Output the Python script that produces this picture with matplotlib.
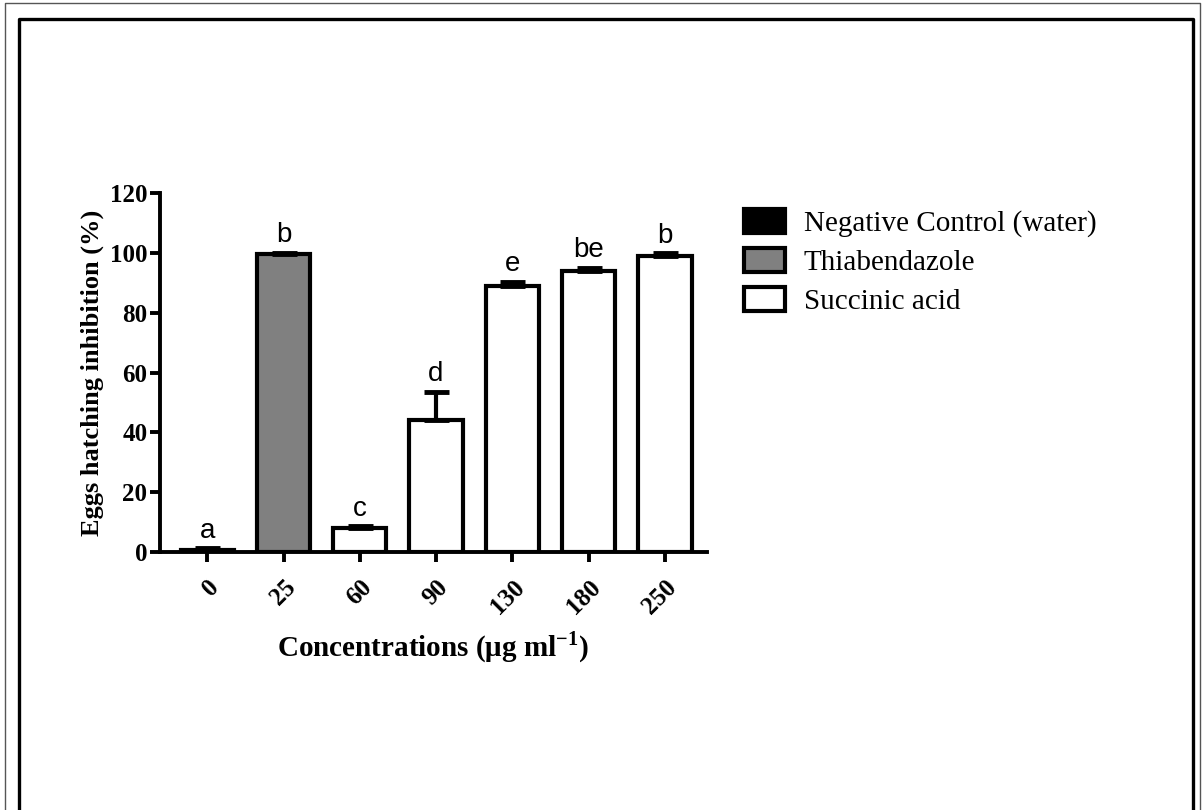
import matplotlib
matplotlib.use('Agg')
import matplotlib.pyplot as plt
from matplotlib.patches import Patch
from matplotlib.lines import Line2D

# data
concentrations = ['0', '25', '60', '90', '130', '180', '250']
inhibition = [0.8, 99.5, 8.0, 44.0, 88.8, 94.0, 99.0]
errors = [0.5, 0.5, 0.6, 9.5, 1.5, 1.0, 0.8]
letters = ['a', 'b', 'c', 'd', 'e', 'be', 'b']
groups = ['Negative Control (water)', 'Thiabendazole',
          'Succinic acid', 'Succinic acid', 'Succinic acid',
          'Succinic acid', 'Succinic acid']
group_colors = {'Negative Control (water)': 'black',
                'Thiabendazole': '#808080',
                'Succinic acid': 'white'}

serif = ['Liberation Serif', 'DejaVu Serif']
sans = ['Liberation Sans', 'DejaVu Sans']

plt.rcParams['mathtext.fontset'] = 'custom'
plt.rcParams['mathtext.rm'] = 'Liberation Serif:bold'
plt.rcParams['mathtext.bf'] = 'Liberation Serif:bold'

fig = plt.figure(figsize=(12.02, 8.10), dpi=100)
ax = fig.add_axes([0.1331, 0.3185, 0.4549, 0.4432])

x = list(range(len(concentrations)))
colors = [group_colors[g] for g in groups]
ax.bar(x, inhibition, width=0.7, color=colors, edgecolor='black',
       linewidth=3.0, zorder=2)
ax.errorbar(x, inhibition, yerr=[[0] * len(errors), errors], fmt='none',
            ecolor='black', elinewidth=3.0, capsize=9, capthick=3.5, zorder=3)

for xi, v, e, lab in zip(x, inhibition, errors, letters):
    ax.text(xi, v + e + 1.5, lab, ha='center', va='bottom', fontsize=20,
            family=sans)

ax.set_xlim(-0.62, 6.55)
ax.set_ylim(0, 120)
ax.set_yticks([0, 20, 40, 60, 80, 100, 120])
ax.set_xticks(x)
ax.set_xticklabels(concentrations, rotation=45, ha='right', va='top',
                   rotation_mode='anchor', fontsize=18, fontweight='bold',
                   family=serif)
for t in ax.get_yticklabels():
    t.set_fontsize(18)
    t.set_fontweight('bold')
    t.set_family(serif)

for s in ['top', 'right']:
    ax.spines[s].set_visible(False)
for s in ['left', 'bottom']:
    ax.spines[s].set_linewidth(2.8)
ax.tick_params(axis='both', width=2.8, length=7, direction='out', pad=2)
ax.tick_params(axis='x', pad=10)

ax.set_ylabel('Eggs hatching inhibition (%)', fontsize=19, fontweight='bold',
              family=serif, labelpad=4)
ax.set_xlabel('Concentrations (μg ml$^{-1}$)', fontsize=21, fontweight='bold',
              family=serif, labelpad=8)

labels = ['Negative Control (water)', 'Thiabendazole', 'Succinic acid']
handles = [Patch(facecolor=group_colors[g], edgecolor='black', linewidth=3)
           for g in labels]
leg = fig.legend(handles, labels,
                 loc='upper left', bbox_to_anchor=(0.597, 0.774), frameon=False,
                 prop={'family': serif, 'size': 21}, handlelength=1.4,
                 handleheight=0.85, labelspacing=0.38, handletextpad=0.65)

# page frame: thin outer line and thick inner line, open at the bottom
for xl, xr, yt, lw, c in [(0.004, 0.998, 0.996, 1.0, '#555555'),
                           (0.0155, 0.9925, 0.977, 2.4, 'black')]:
    fig.add_artist(Line2D([xl, xl, xr, xr], [0.0, yt, yt, 0.0],
                          transform=fig.transFigure, color=c, linewidth=lw))

fig.savefig('out.png', dpi=100)
